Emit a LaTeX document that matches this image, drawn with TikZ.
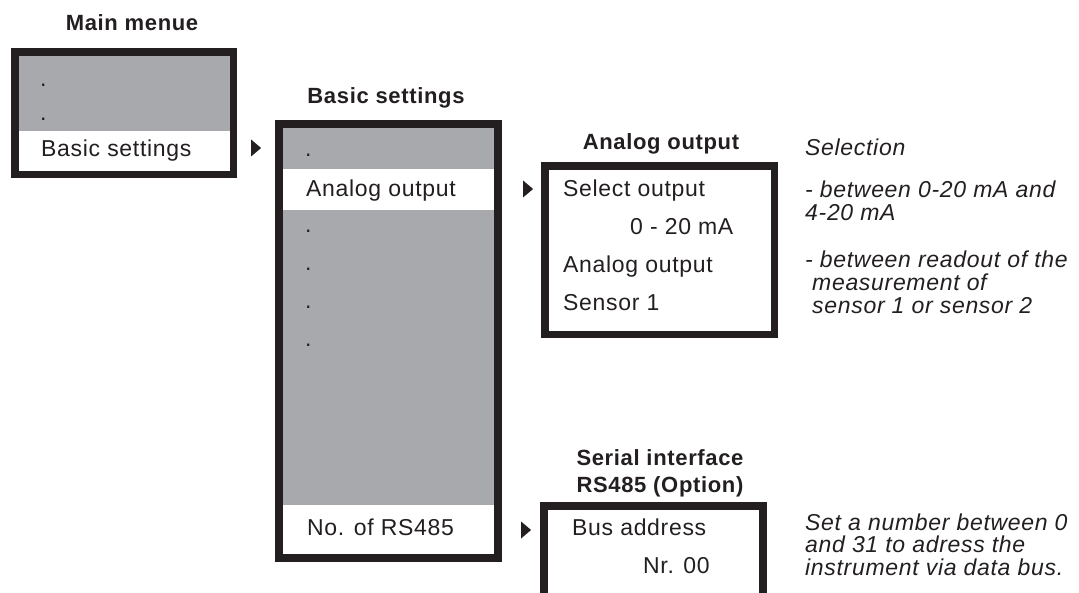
\documentclass[tikz,border=0pt]{standalone}
\usepackage{fontspec}
\setmainfont{Liberation Sans}[LetterSpace=3]
\usetikzlibrary{shapes.geometric}
\definecolor{menugrey}{RGB}{167,169,172}
\definecolor{ink}{RGB}{35,31,32}

\begin{document}
\begin{tikzpicture}[x=1pt,y=-1pt,
  frame/.style={draw=ink,line width=7.5pt},
  item/.style={anchor=base west,inner sep=0pt,text=ink,font=\fontsize{23}{25}\selectfont},
  title/.style={anchor=base,inner sep=0pt,text=ink,font=\fontsize{22}{24}\selectfont\bfseries},
  note/.style={anchor=base west,inner sep=0pt,text=ink,font=\fontsize{23}{25}\selectfont\itshape},
  pointer/.style={isosceles triangle,isosceles triangle stretches,fill=ink,draw=none,
    inner sep=0pt,minimum height=10pt,minimum width=17pt}
]
\useasboundingbox (0,0) rectangle (1079,593);

% ---- Main menu ----
\node[title] (tmain) at (132,31) {Main menue};
\fill[menugrey] (15,52) rectangle (233.5,131);
\fill[white] (15,131) rectangle (233.5,174.5);
\draw[frame] (15,52) rectangle (233.5,174.5);
\node[item] (m1) at (40,87) {.};
\node[item] (m2) at (40,121) {.};
\node[item] (m3) at (41,157) {Basic settings};
\node[pointer] (p1) at (255,148) {};

% ---- Basic settings ----
\node[title] (tbasic) at (386,104) {Basic settings};
\fill[menugrey] (279,124) rectangle (498,558);
\fill[white] (279,169) rectangle (498,210);
\fill[white] (279,505) rectangle (498,558);
\draw[frame] (279,124) rectangle (498,558);
\node[item] (b1) at (305,157) {.};
\node[item] (b2) at (306,197) {Analog output};
\node[item] (b3) at (305,233) {.};
\node[item] (b4) at (305,271) {.};
\node[item] (b5) at (305,309) {.};
\node[item] (b6) at (305,347) {.};
\node[item] (b7) at (307,535) {No. of RS485};
\node[pointer] (p2) at (527,189) {};
\node[pointer] (p3) at (525,530) {};

% ---- Analog output ----
\node[title] (tanalog) at (661,150) {Analog output};
\draw[frame] (545,166) rectangle (774.5,334.5);
\node[item] (a1) at (563,197) {Select output};
\node[item] (a2) at (630,235) {0 - 20 mA};
\node[item] (a3) at (563,273) {Analog output};
\node[item] (a4) at (563,311) {Sensor 1};

\node[note] (n1) at (805,156) {Selection};
\node[note] (n2) at (805,198) {- between 0-20 mA and};
\node[note] (n3) at (805,221) {4-20 mA};
\node[note] (n4) at (805,268) {- between readout of the};
\node[note] (n5) at (812,291) {measurement of};
\node[note] (n6) at (812,314) {sensor 1 or sensor 2};

% ---- Serial interface ----
\node[title] (tserial1) at (660,465) {Serial interface};
\node[title] (tserial2) at (660,492) {RS485 (Option)};
\draw[frame] (544,597) -- (544,506) -- (763,506) -- (763,597);
\node[item] (s1) at (572,535) {Bus address};
\node[item] (s2) at (643,573) {Nr. 00};

\node[note] (n7) at (805,530) {Set a number between 0};
\node[note] (n8) at (805,552) {and 31 to adress the};
\node[note] (n9) at (805,575) {instrument via data bus.};
\end{tikzpicture}
\end{document}
